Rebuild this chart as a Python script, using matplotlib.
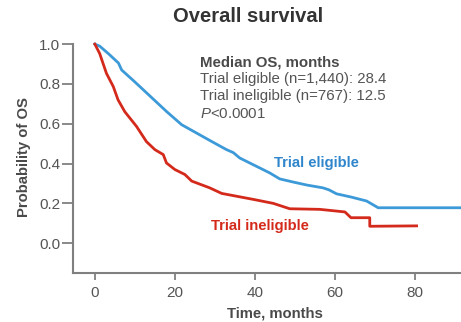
import matplotlib
matplotlib.use("Agg")
import matplotlib.pyplot as plt

plt.rcParams['font.family'] = ['Liberation Sans', 'DejaVu Sans']
plt.rcParams['mathtext.fontset'] = 'custom'
plt.rcParams['mathtext.rm'] = 'Liberation Sans'
plt.rcParams['mathtext.it'] = 'Liberation Sans:italic'

# Trial eligible (blue)
elig_t = [0, 1.2, 3.5, 5.9, 6.7, 10, 14, 18, 21.7, 25, 29, 32.9, 34.6, 36.2, 39, 41.2, 43.7, 46.2, 49.6, 53, 57, 58.5, 60.4, 64, 67.9, 70.8, 91.5]
elig_s = [1.0, 0.99, 0.95, 0.905, 0.87, 0.81, 0.735, 0.66, 0.595, 0.558, 0.513, 0.47, 0.455, 0.428, 0.40, 0.378, 0.353, 0.323, 0.307, 0.292, 0.278, 0.268, 0.248, 0.232, 0.212, 0.178, 0.178]

# Trial ineligible (red)
inel_t = [0, 1.2, 2.9, 4.6, 5.8, 7.5, 10.4, 12.9, 15, 17.1, 17.9, 20, 22.5, 24.2, 28.7, 31.7, 39.6, 44.6, 48.7, 56.2, 62.5, 64, 68.7, 68.7, 80.4]
inel_s = [1.0, 0.953, 0.853, 0.787, 0.72, 0.66, 0.587, 0.51, 0.47, 0.445, 0.403, 0.37, 0.345, 0.312, 0.278, 0.25, 0.22, 0.2, 0.173, 0.17, 0.157, 0.128, 0.128, 0.085, 0.087]

x_ticks = [0, 20, 40, 60, 80]
y_ticks = [0.0, 0.2, 0.4, 0.6, 0.8, 1.0]

blue = '#3d9ad8'
red = '#d42a1c'
gray = '#4a4a4a'
spine_gray = '#808080'

fig = plt.figure(figsize=(4.61, 3.22), dpi=100)
ax = fig.add_axes([0.158, 0.152, 0.842, 0.711])

ax.plot(elig_t, elig_s, color=blue, lw=2.0, clip_on=False, solid_joinstyle='round')
ax.plot(inel_t, inel_s, color=red, lw=2.0, clip_on=False, solid_joinstyle='round')

ax.set_xlim(-5.5, 91.5)
ax.set_ylim(-0.15, 1.0)
ax.set_xticks(x_ticks)
ax.set_yticks(y_ticks)
ax.set_xticklabels([str(v) for v in x_ticks])
ax.set_yticklabels([f"{v:.1f}" for v in y_ticks])

for s in ['top', 'right']:
    ax.spines[s].set_visible(False)
for s in ['left', 'bottom']:
    ax.spines[s].set_color(spine_gray)
    ax.spines[s].set_linewidth(1.5)
ax.tick_params(axis='both', colors=spine_gray, labelcolor='#555555', labelsize=11,
               width=1.3, direction='out')
ax.tick_params(axis='y', length=8, pad=1)
ax.tick_params(axis='x', length=5, pad=4.5)

fig.text(274.5 / 461, 1 - 313 / 322, 'Time, months', ha='center', va='center',
         fontsize=10.7, fontweight='bold', color=gray)
fig.text(24 / 461, 1 - 157 / 322, 'Probability of OS', ha='center', va='center',
         rotation=90, fontsize=10.7, fontweight='bold', color=gray)
fig.text(248 / 461, 1 - 16 / 322, 'Overall survival', ha='center', va='center',
         fontsize=14.5, fontweight='bold', color='#333333')

# annotation block
ann_x = 26.2
ax.text(ann_x, 0.907, 'Median OS, months', fontsize=10.8, fontweight='bold', color=gray, va='center')
ax.text(ann_x, 0.823, 'Trial eligible (n=1,440): 28.4', fontsize=10.8, color='#555555', va='center')
ax.text(ann_x, 0.737, 'Trial ineligible (n=767): 12.5', fontsize=10.8, color='#555555', va='center')
ax.text(ann_x, 0.65, r'$\mathit{P}$<0.0001', fontsize=10.8, color='#555555', va='center')

ax.text(55.3, 0.405, 'Trial eligible', fontsize=10.7, fontweight='bold', color='#2f86cc',
        ha='center', va='center')
ax.text(41.3, 0.085, 'Trial ineligible', fontsize=10.7, fontweight='bold', color=red,
        ha='center', va='center')

fig.savefig('out.png', dpi=100)
